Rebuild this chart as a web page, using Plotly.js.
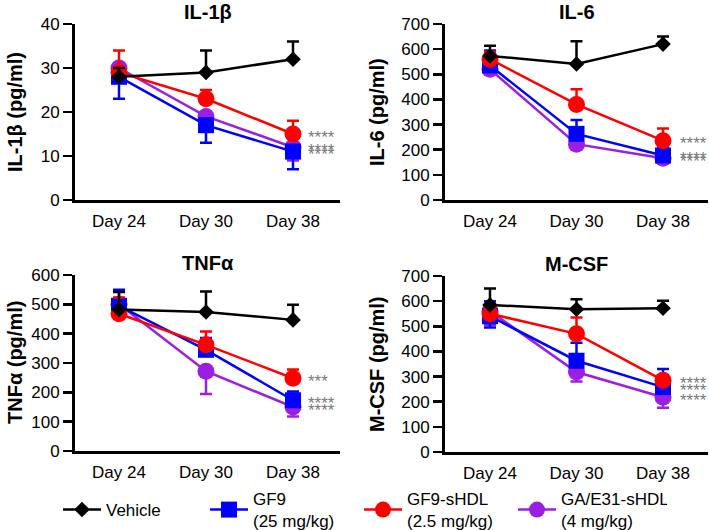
<!DOCTYPE html>
<html>
<head>
<meta charset="utf-8">
<script src="https://cdn.plot.ly/plotly-3.0.1.min.js"></script>
<style>html,body{margin:0;padding:0;background:#fff;}#chart{width:709px;height:530px;}</style>
</head>
<body>
<div id="chart"></div>
<script>
// ---- data ----
const days = ['Day 24', 'Day 30', 'Day 38'];
const seriesNames = ['Vehicle', 'GF9<br>(25 mg/kg)', 'GF9-sHDL<br>(2.5 mg/kg)', 'GA/E31-sHDL<br>(4 mg/kg)'];
const panelTitles = ['IL-1β', 'IL-6', 'TNFα', 'M-CSF'];
const yTitles = ['IL-1β (pg/ml)', 'IL-6 (pg/ml)', 'TNFα (pg/ml)', 'M-CSF (pg/ml)'];

// IL-1β
const il1b_vehicle = [28, 29, 32];
const il1b_gf9 = [28, 17, 11];
const il1b_gf9shdl = [29, 23, 15];
const il1b_gae31 = [30, 19, 12];
const il1b_vehicle_up = [2, 5, 4];
const il1b_gf9_up = [0, 0, 0], il1b_gf9_dn = [5, 4, 4];
const il1b_gf9shdl_up = [5, 2, 3];
const il1b_gae31_dn = [2, 3, 3];
const il1b_sig = ['****', '****', '****']; // GF9-sHDL, GF9, GA/E31

// IL-6
const il6_vehicle = [573, 541, 620];
const il6_gf9 = [535, 263, 177];
const il6_gf9shdl = [560, 380, 236];
const il6_gae31 = [520, 222, 166];
const il6_vehicle_up = [40, 90, 30];
const il6_gf9_up = [60, 55, 30], il6_gf9_dn = [25, 0, 0];
const il6_gf9shdl_up = [30, 60, 48];
const il6_gae31_dn = [20, 20, 15];
const il6_sig = ['****', '****', '****'];

// TNFα
const tnf_vehicle = [482, 474, 447];
const tnf_gf9 = [495, 345, 173];
const tnf_gf9shdl = [468, 362, 248];
const tnf_gae31 = [500, 272, 150];
const tnf_vehicle_up = [60, 70, 52];
const tnf_gf9_up = [55, 40, 30], tnf_gf9_dn = [0, 0, 0];
const tnf_gf9shdl_up = [55, 45, 30];
const tnf_gae31_dn = [30, 78, 32];
const tnf_sig = ['***', '****', '****'];

// M-CSF
const mcsf_vehicle = [585, 568, 572];
const mcsf_gf9 = [540, 363, 258];
const mcsf_gf9shdl = [550, 470, 285];
const mcsf_gae31 = [560, 318, 218];
const mcsf_vehicle_up = [65, 40, 30];
const mcsf_gf9_up = [60, 72, 72], mcsf_gf9_dn = [45, 0, 0];
const mcsf_gf9shdl_up = [30, 65, 20];
const mcsf_gae31_dn = [55, 38, 42];
const mcsf_sig = ['****', '****', '****'];

const yMax = [40, 700, 600, 700];
const yDtick = [10, 100, 100, 100];

// ---- styling ----
const FONT = 'Liberation Sans, Arial, Helvetica, sans-serif';
const colors = ['#000000', '#0000FF', '#FF0000', '#9B1FE0'];
const symbols = ['diamond', 'square', 'circle', 'circle'];
const sizes = [12, 16, 17, 17];

const panels = [
  {v: il1b_vehicle, b: il1b_gf9, r: il1b_gf9shdl, p: il1b_gae31, vu: il1b_vehicle_up, bu: il1b_gf9_up, bd: il1b_gf9_dn, ru: il1b_gf9shdl_up, pd: il1b_gae31_dn, sig: il1b_sig},
  {v: il6_vehicle, b: il6_gf9, r: il6_gf9shdl, p: il6_gae31, vu: il6_vehicle_up, bu: il6_gf9_up, bd: il6_gf9_dn, ru: il6_gf9shdl_up, pd: il6_gae31_dn, sig: il6_sig},
  {v: tnf_vehicle, b: tnf_gf9, r: tnf_gf9shdl, p: tnf_gae31, vu: tnf_vehicle_up, bu: tnf_gf9_up, bd: tnf_gf9_dn, ru: tnf_gf9shdl_up, pd: tnf_gae31_dn, sig: tnf_sig},
  {v: mcsf_vehicle, b: mcsf_gf9, r: mcsf_gf9shdl, p: mcsf_gae31, vu: mcsf_vehicle_up, bu: mcsf_gf9_up, bd: mcsf_gf9_dn, ru: mcsf_gf9shdl_up, pd: mcsf_gae31_dn, sig: mcsf_sig}
];

const W = 709, H = 530;
// pixel geometry of each panel
const geom = [
  {x0: 75, x1: 340, yt: 24, yb: 200, c0: 119, dc: 87, tx: 15},
  {x0: 445, x1: 708, yt: 24, yb: 200, c0: 490, dc: 86.5, tx: 377},
  {x0: 75, x1: 340, yt: 275, yb: 451, c0: 119, dc: 87, tx: 15},
  {x0: 445, x1: 708, yt: 276, yb: 452, c0: 490, dc: 86.5, tx: 377}
];

const zeros = [0, 0, 0];
const traces = [];
const annotations = [];
const legendFont = {family: FONT, size: 17, color: '#000'};
const layout = {
  width: W, height: H,
  margin: {l: 0, r: 0, t: 0, b: 0, autoexpand: false},
  paper_bgcolor: '#fff', plot_bgcolor: 'rgba(0,0,0,0)',
  font: {family: FONT, size: 17, color: '#000'},
  showlegend: true,
  legend: {
    orientation: 'h', x: 205 / W, y: (H - 510) / H, xanchor: 'left', yanchor: 'middle',
    font: legendFont, itemwidth: 38, entrywidth: 101, entrywidthmode: 'pixels', valign: 'middle',
    bgcolor: 'rgba(0,0,0,0)', borderwidth: 0, tracegroupgap: 0
  },
  legend2: {
    orientation: 'h', x: 58 / W, y: (H - 510) / H, xanchor: 'left', yanchor: 'middle',
    font: legendFont, itemwidth: 38, valign: 'middle',
    bgcolor: 'rgba(0,0,0,0)', borderwidth: 0
  },
  annotations: annotations
};

panels.forEach((pn, i) => {
  const n = i + 1;
  const xa = 'x' + (n === 1 ? '' : n), ya = 'y' + (n === 1 ? '' : n);
  const g = geom[i];
  const vals = [pn.v, pn.b, pn.r, pn.p];
  const ups = [pn.vu, pn.bu, pn.ru, zeros];
  const dns = [zeros, pn.bd, zeros, pn.pd];
  // draw order bottom→top: purple, blue, red, vehicle
  [3, 1, 2, 0].forEach(s => {
    traces.push({
      x: days, y: vals[s], xaxis: xa, yaxis: ya,
      type: 'scatter', mode: 'lines+markers', name: seriesNames[s],
      legend: s === 0 ? 'legend2' : 'legend',
      legendrank: s + 1, showlegend: i === 0, cliponaxis: false,
      line: {color: colors[s], width: 2.5},
      marker: {symbol: symbols[s], size: sizes[s], color: colors[s], line: {width: 0}},
      error_y: {type: 'data', symmetric: false, array: ups[s], arrayminus: dns[s],
                color: colors[s], thickness: 2.5, width: 6}
    });
  });
  const axX = 'xaxis' + (n === 1 ? '' : n), axY = 'yaxis' + (n === 1 ? '' : n);
  layout[axX] = {
    domain: [g.x0 / W, g.x1 / W], anchor: ya, type: 'category',
    range: [-(g.c0 - g.x0) / g.dc, (g.x1 - g.c0) / g.dc],
    showline: true, linewidth: 3, linecolor: '#000', ticks: '', showgrid: false, zeroline: false,
    ticklabelstandoff: 4,
    tickfont: {family: FONT, size: 17, color: '#000'}, fixedrange: true
  };
  layout[axY] = {
    domain: [(H - g.yb) / H, (H - g.yt) / H], anchor: xa,
    range: [0, yMax[i]], dtick: yDtick[i], tick0: 0,
    showline: true, linewidth: 3, linecolor: '#000', ticks: 'outside', ticklen: 9, tickwidth: 2.5, tickcolor: '#000',
    showgrid: false, zeroline: false,
    tickfont: {family: FONT, size: 17, color: '#000'},
    fixedrange: true
  };
  // panel title
  annotations.push({
    xref: 'paper', yref: 'paper', x: ((g.x0 + g.x1) / 2) / W, y: (H - (g.yt - 12)) / H,
    text: panelTitles[i], showarrow: false, xanchor: 'center', yanchor: 'middle',
    font: {family: FONT, size: 20, weight: 'bold', color: '#000'}
  });
  // y-axis title
  annotations.push({
    xref: 'paper', yref: 'paper', x: g.tx / W, y: (H - (g.yt + g.yb) / 2) / H,
    text: yTitles[i], showarrow: false, textangle: -90, xanchor: 'center', yanchor: 'middle',
    font: {family: FONT, size: 20, weight: 'bold', color: '#000'}
  });
  // significance stars: red, blue, purple at Day 38
  [[2, 0], [1, 1], [3, 2]].forEach(([s, k]) => {
    annotations.push({
      xref: xa, yref: ya, x: days[2], y: vals[s][2], text: pn.sig[k], showarrow: false,
      xanchor: 'left', yanchor: 'middle', xshift: i % 2 === 0 ? 13 : 15, yshift: -3,
      font: {family: FONT, size: 17, color: '#7a7a7a'}
    });
  });
});

Plotly.newPlot('chart', traces, layout, {displayModeBar: false, staticPlot: true});
</script>
</body>
</html>
